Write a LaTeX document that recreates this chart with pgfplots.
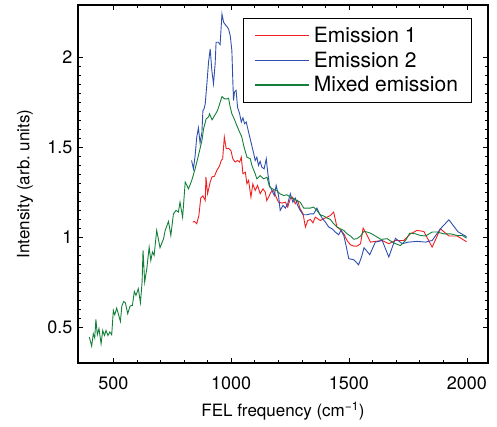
\documentclass[border=0pt]{standalone}
\usepackage{fontspec}
\setmainfont{TeX Gyre Heros}
\usepackage{pgfplots}
\pgfplotsset{compat=1.18}
\definecolor{cRed}{HTML}{F02020}
\definecolor{cBlue}{HTML}{2E4FAE}
\definecolor{cGreen}{HTML}{137F3A}
\begin{document}
\begin{tikzpicture}
\begin{axis}[
  name=ax,
  scale only axis, width=410pt, height=358pt,
  xmin=350, xmax=2090, ymin=0.3, ymax=2.29,
  xtick={500,1000,1500,2000}, ytick={0.5,1,1.5,2},
  minor x tick num=4, minor y tick num=9,
  tick align=inside, major tick length=5pt, minor tick length=3pt,
  axis line style={line width=1.2pt}, every tick/.style={black, line width=0.6pt},
  /pgf/number format/assume math mode=true, /pgf/number format/1000 sep={},
  tick label style={font=\fontsize{18}{21}\selectfont},
  xticklabel style={yshift=-10pt}, yticklabel style={xshift=-2pt},
  label style={font=\fontsize{17}{20}\selectfont},
  xlabel={FEL frequency (cm\textsuperscript{−1})},
  ylabel={Intensity (arb.\ units)},
  xlabel style={at={(rel axis cs:0.5,0)}, anchor=center, yshift=-48pt},
  ylabel style={at={(rel axis cs:0,0.5)}, anchor=center, rotate=0, yshift=53pt},
  legend cell align=left,
  legend style={at={(rel axis cs:0.962,0.965)}, anchor=north east, draw=black, line width=1pt,
    font=\fontsize{21}{23}\selectfont, row sep=4pt, inner xsep=10pt, inner ysep=7pt,
    nodes={inner xsep=4pt}},
  legend image post style={xscale=3.2, line width=1.3pt},
  every axis plot/.append style={line width=0.9pt},
]
\addplot[cRed] coordinates {
(837,1.083) (844,1.087) (854,1.074) (863,1.120) (871,1.218) (880,1.229) (890,1.203) (893,1.333)
(900,1.241) (911,1.306) (919,1.335) (929,1.338) (939,1.370) (951,1.396) (958,1.426) (964,1.435)
(971,1.556) (979,1.491) (989,1.493) (999,1.481) (1007,1.435) (1017,1.417) (1027,1.426) (1036,1.417)
(1043,1.444) (1050,1.352) (1060,1.361) (1067,1.296) (1074,1.315) (1084,1.222) (1092,1.296) (1102,1.259)
(1112,1.287) (1123,1.241) (1135,1.268) (1145,1.250) (1151,1.203) (1159,1.222) (1169,1.250) (1180,1.259)
(1191,1.222) (1201,1.194) (1216,1.189) (1230,1.194) (1240,1.167) (1251,1.213) (1261,1.222) (1272,1.185)
(1282,1.203) (1293,1.157) (1305,1.130) (1315,1.056) (1325,1.092) (1336,1.098) (1347,1.079) (1357,1.111)
(1367,1.102) (1378,1.092) (1393,1.102) (1407,1.111) (1421,1.120) (1435,1.139) (1449,1.056) (1463,1.042)
(1478,1.018) (1492,0.981) (1506,0.957) (1520,0.950) (1534,0.950) (1549,0.963) (1560,1.050) (1570,1.028)
(1591,0.972) (1612,0.976) (1641,0.981) (1669,0.963) (1697,0.981) (1733,0.981) (1761,1.018) (1789,1.037)
(1818,1.031) (1853,0.944) (1888,1.046) (1924,1.006) (1959,1.006) (1999,0.974)
};
\addlegendentry{Emission 1}
\addplot[cBlue] coordinates {
(832,1.426) (840,1.379) (847,1.453) (854,1.556) (861,1.607) (868,1.524) (876,1.583) (880,1.702)
(885,1.713) (890,1.741) (897,1.852) (904,1.972) (911,2.046) (918,1.926) (925,1.852) (932,1.963)
(936,2.083) (946,2.083) (953,2.070) (961,2.240) (968,2.194) (975,2.181) (982,2.170) (989,2.157)
(996,2.120) (1003,2.037) (1007,1.870) (1010,1.759) (1014,1.806) (1021,1.815) (1027,1.722) (1036,1.685)
(1043,1.639) (1050,1.663) (1057,1.630) (1064,1.639) (1074,1.583) (1084,1.528) (1096,1.463) (1102,1.426)
(1109,1.444) (1116,1.398) (1123,1.421) (1130,1.389) (1140,1.379) (1149,1.435) (1155,1.361) (1163,1.287)
(1173,1.259) (1183,1.231) (1191,1.287) (1201,1.231) (1208,1.148) (1220,1.176) (1230,1.161) (1240,1.185)
(1251,1.241) (1262,1.194) (1272,1.217) (1282,1.176) (1293,1.148) (1305,1.124) (1322,1.124) (1336,1.129)
(1350,1.129) (1364,1.161) (1375,1.129) (1386,1.106) (1400,1.083) (1414,1.056) (1428,1.046) (1442,1.028)
(1456,1.013) (1466,1.037) (1478,1.009) (1489,0.944) (1499,0.880) (1520,0.874) (1541,0.846) (1553,0.889)
(1564,0.941) (1588,0.902) (1612,0.972) (1641,0.981) (1669,0.889) (1697,0.993) (1726,0.963) (1752,0.972)
(1789,0.976) (1825,0.972) (1853,0.981) (1888,1.046) (1924,1.096) (1963,1.029) (1999,1.002)
};
\addlegendentry{Emission 2}
\addplot[cGreen] coordinates {
(398,0.444) (408,0.394) (415,0.463) (421,0.439) (426,0.542) (432,0.457) (439,0.491) (448,0.407)
(455,0.481) (462,0.453) (469,0.481) (477,0.453) (485,0.472) (493,0.457) (500,0.592) (506,0.568)
(514,0.605) (521,0.574) (530,0.531) (536,0.617) (544,0.642) (551,0.635) (561,0.574) (571,0.617)
(581,0.620) (589,0.698) (596,0.676) (606,0.713) (615,0.635) (622,0.750) (626,0.926) (633,0.750)
(642,0.824) (652,0.944) (659,0.870) (666,0.917) (673,0.898) (684,1.037) (698,0.941) (713,0.990)
(720,1.037) (734,1.087) (744,1.009) (755,1.129) (766,1.148) (776,1.139) (783,1.194) (794,1.110)
(805,1.306) (819,1.268) (833,1.316) (847,1.379) (861,1.453) (876,1.537) (883,1.602) (894,1.657)
(904,1.668) (908,1.685) (919,1.652) (934,1.685) (942,1.703) (951,1.740) (961,1.781) (972,1.768)
(982,1.768) (989,1.772) (996,1.722) (1003,1.685) (1013,1.657) (1024,1.620) (1036,1.583) (1045,1.557)
(1053,1.509) (1067,1.444) (1081,1.435) (1088,1.398) (1102,1.352) (1109,1.324) (1123,1.341) (1138,1.324)
(1152,1.333) (1163,1.279) (1180,1.264) (1194,1.259) (1208,1.240) (1223,1.231) (1237,1.235) (1251,1.222)
(1265,1.213) (1279,1.203) (1293,1.194) (1308,1.161) (1322,1.161) (1336,1.161) (1350,1.167) (1364,1.148)
(1378,1.124) (1393,1.117) (1407,1.106) (1421,1.098) (1435,1.074) (1449,1.056) (1463,1.046) (1478,1.037)
(1492,1.018) (1506,1.006) (1520,0.988) (1534,0.991) (1549,1.006) (1563,1.031) (1577,1.028) (1591,1.022)
(1612,1.006) (1636,0.987) (1662,0.991) (1690,0.967) (1718,0.953) (1740,0.981) (1758,1.022) (1782,1.018)
(1803,1.009) (1825,1.006) (1853,1.028) (1874,1.028) (1903,1.018) (1931,1.018) (1959,1.009) (1981,1.009)
(1999,0.994)
};
\addlegendentry{Mixed emission}
\end{axis}
\path ([xshift=-78pt,yshift=-63pt]ax.south west) ([xshift=9pt,yshift=5pt]ax.north east);
\end{tikzpicture}
\end{document}
